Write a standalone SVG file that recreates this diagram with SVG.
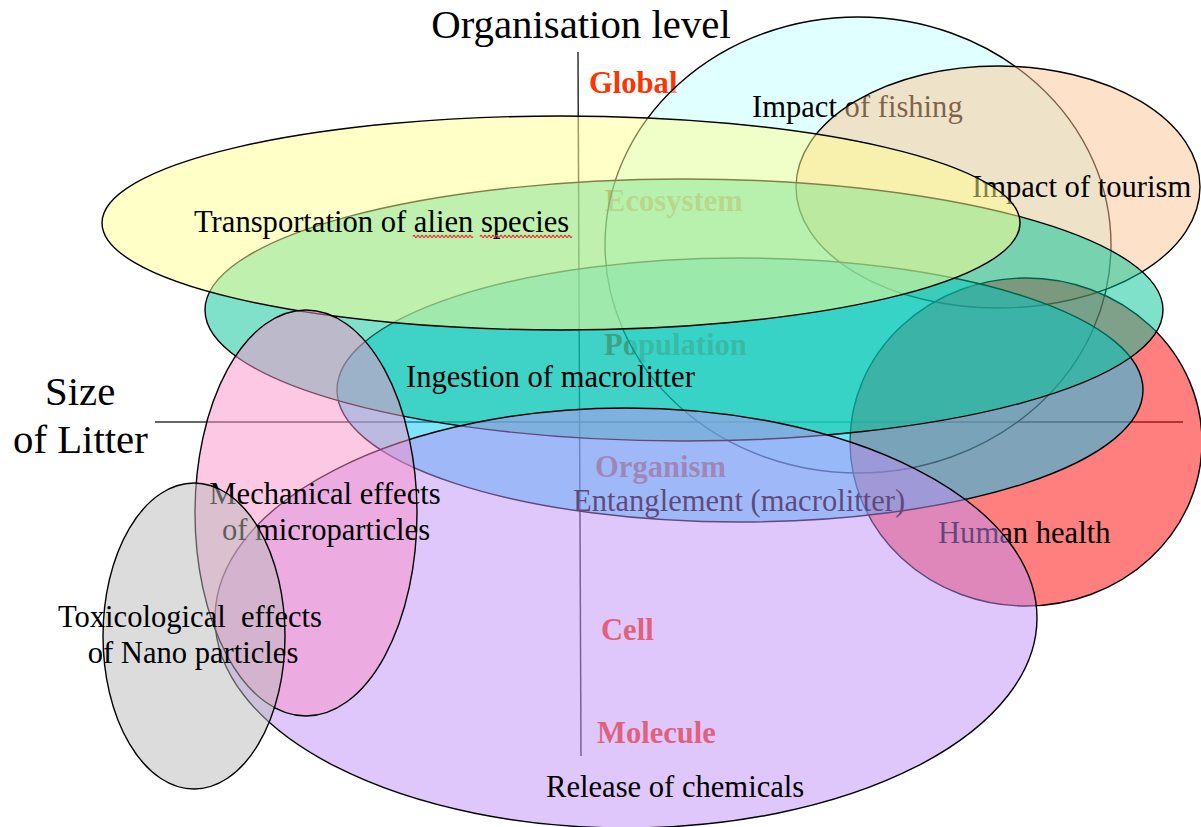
<svg xmlns="http://www.w3.org/2000/svg" width="1201" height="827" viewBox="0 0 1201 827">
<style>
text{font-family:"Liberation Serif","Times New Roman",serif;font-size:30.6px;fill:#000}
.big{font-size:40.8px}
.lvl{font-weight:bold;fill:#ff3300}
.e{stroke:#000;stroke-width:1.4;fill-opacity:0.5}
.fish{fill:#c2ffff}
.tour{fill:#fbc593}
.health{fill:#ff0000}
.ingest{fill:#00c8f4}
.eco{fill:#00c496}
.alien{fill:#ffff91}
.chem{fill:#c090f8}
.micro{fill:#f991c9}
.nano{fill:#b9b9b9}
.axis{stroke:#333;stroke-width:1.5;fill:none}
.squig{stroke:#e83838;stroke-width:1.2;fill:none}
</style>
<rect width="1201" height="827" fill="#fff"/>
<g id="titles">
<text class="big" x="581" y="38" text-anchor="middle">Organisation level</text>
<text class="big" x="45" y="405">Size</text>
<text class="big" x="13" y="453">of Litter</text>
</g>
<g id="connectors">
<line class="axis" x1="578" y1="52" x2="581" y2="756"/>
<line class="axis" x1="155" y1="422" x2="1183" y2="422"/>
</g>
<g id="levels">
<text class="lvl" x="589" y="93">Global</text>
<text class="lvl" x="605" y="211">Ecosystem</text>
<text class="lvl" x="604" y="355">Population</text>
<text class="lvl" x="595" y="477">Organism</text>
<text class="lvl" x="601" y="640">Cell</text>
<text class="lvl" x="597" y="743">Molecule</text>
</g>
<g id="fishing">
<ellipse class="e fish" cx="858" cy="245" rx="253" ry="228"/>
<text x="752" y="117">Impact of fishing</text>
</g>
<g id="tourism">
<ellipse class="e tour" cx="998" cy="187" rx="202" ry="121"/>
<text x="972" y="197">Impact of tourism</text>
</g>
<g id="health">
<ellipse class="e health" cx="1026" cy="442" rx="176" ry="164"/>
<text x="938" y="543">Human health</text>
</g>
<g id="ingestion">
<ellipse class="e ingest" cx="740" cy="390" rx="403" ry="132"/>
</g>
<g id="ecosystem-band">
<ellipse class="e eco" cx="684" cy="310" rx="479" ry="131"/>
</g>
<g id="alien">
<ellipse class="e alien" cx="561" cy="223" rx="459" ry="107"/>
<text x="194" y="232">Transportation of alien species</text>
<path class="squig" d="M413 236.5 q1 -2.2 2 0 t2 0 t2 0 t2 0 t2 0 t2 0 t2 0 t2 0 t2 0 t2 0 t2 0 t2 0 t2 0 t2 0 t2 0 t2 0 t2 0 t2 0 t2 0 t2 0 t2 0 t2 0 t2 0 t2 0 t2 0 t2 0 t2 0 t2 0 t2 0 t2 0"/>
<path class="squig" d="M480 236.5 q1 -2.2 2 0 t2 0 t2 0 t2 0 t2 0 t2 0 t2 0 t2 0 t2 0 t2 0 t2 0 t2 0 t2 0 t2 0 t2 0 t2 0 t2 0 t2 0 t2 0 t2 0 t2 0 t2 0 t2 0 t2 0 t2 0 t2 0 t2 0 t2 0 t2 0 t2 0 t2 0 t2 0 t2 0 t2 0 t2 0 t2 0 t2 0 t2 0 t2 0 t2 0 t2 0 t2 0 t2 0 t2 0 t2 0 t2 0"/>
</g>
<g id="ingestion-labels">
<text x="406" y="387">Ingestion of macrolitter</text>
<text x="573" y="511">Entanglement (macrolitter)</text>
</g>
<g id="chemicals">
<ellipse class="e chem" cx="626" cy="618" rx="411" ry="210"/>
<text x="546" y="797">Release of chemicals</text>
</g>
<g id="microparticles">
<ellipse class="e micro" cx="306" cy="513" rx="111" ry="203"/>
<text x="325" y="504" text-anchor="middle">Mechanical effects</text>
<text x="326" y="540" text-anchor="middle">of microparticles</text>
</g>
<g id="nanoparticles">
<ellipse class="e nano" cx="194" cy="636" rx="91" ry="153"/>
<text x="190" y="627" text-anchor="middle" xml:space="preserve" style="white-space:pre">Toxicological  effects</text>
<text x="193" y="663" text-anchor="middle">of Nano particles</text>
</g>
</svg>
